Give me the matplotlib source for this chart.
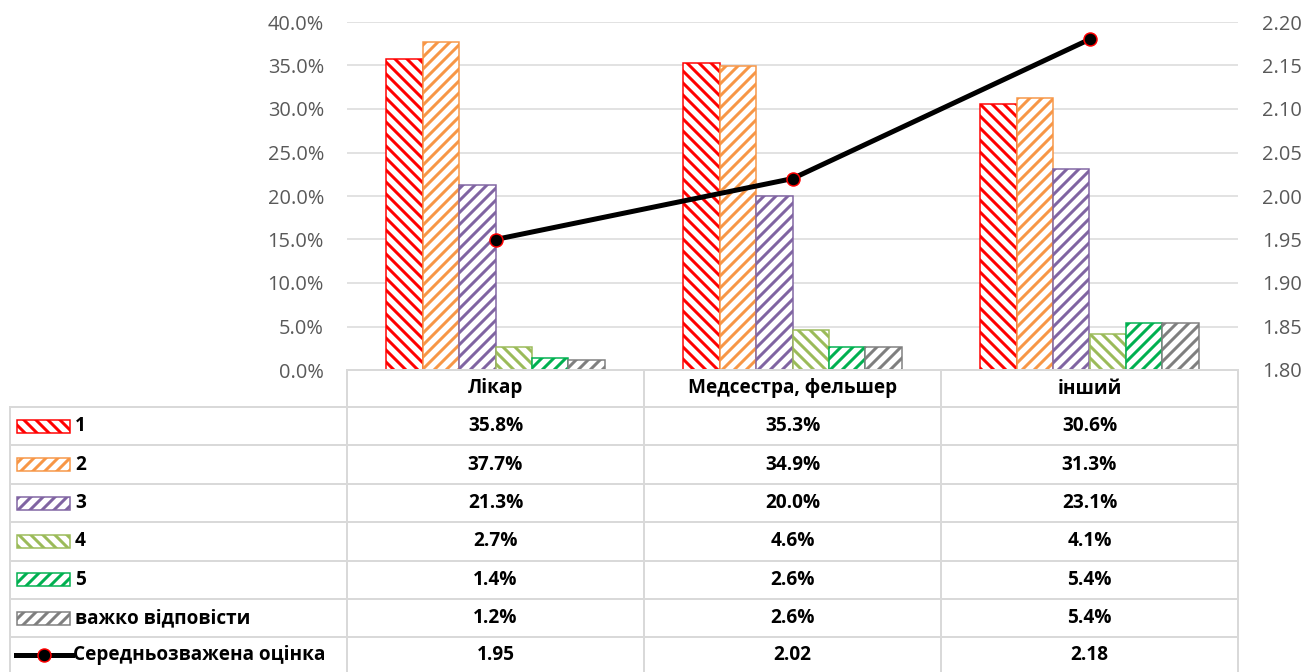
import matplotlib
matplotlib.use('Agg')
import matplotlib.pyplot as plt
import numpy as np
from matplotlib.patches import Rectangle
from matplotlib.lines import Line2D
from matplotlib.transforms import blended_transform_factory
from matplotlib.ticker import PercentFormatter, FormatStrFormatter

plt.rcParams['font.family'] = ['Open Sans', 'DejaVu Sans']
plt.rcParams['hatch.linewidth'] = 3.0

# data
categories = ['Лікар', 'Медсестра, фельшер', 'інший']
series_names = ['1', '2', '3', '4', '5', 'важко відповісти']
s1 = [35.8, 35.3, 30.6]
s2 = [37.7, 34.9, 31.3]
s3 = [21.3, 20.0, 23.1]
s4 = [2.7, 4.6, 4.1]
s5 = [1.4, 2.6, 5.4]
s_hard = [1.2, 2.6, 5.4]
avg_score = [1.95, 2.02, 2.18]
avg_name = 'Середньозважена оцінка'

series = [s1, s2, s3, s4, s5, s_hard]
colors = ['#FF0000', '#F79646', '#8064A2', '#9BBB59', '#00B050', '#7F7F7F']
hatches = ['\\\\', '//', '//', '\\\\', '//', '//']

W, H, DPI = 1309, 672, 72
fig = plt.figure(figsize=(W / DPI, H / DPI), dpi=DPI)

# main chart area
ax = fig.add_axes([347 / W, 1 - 370 / H, 891 / W, 348 / H])
x = np.arange(len(categories))
bw = 0.1225
for k, vals in enumerate(series):
    ax.bar(x + (k - 2.5) * bw, np.array(vals) / 100, bw, facecolor='white',
           edgecolor=colors[k], hatch=hatches[k], linewidth=1.5, zorder=2)
ax.set_xlim(-0.5, 2.5)
ax.set_ylim(0, 0.4)
ax.set_yticks(np.arange(0, 0.401, 0.05))
ax.yaxis.set_major_formatter(PercentFormatter(1, decimals=1))
ax.set_xticks([])
ax.yaxis.grid(True, color='#d9d9d9', linewidth=1.5)
ax.set_axisbelow(True)
for s in ax.spines.values():
    s.set_visible(False)
ax.tick_params(axis='y', length=0, pad=23, labelsize=20, labelcolor='#595959')

ax2 = ax.twinx()
ax2.plot(x, avg_score, color='black', linewidth=5, marker='o', markersize=13,
         markerfacecolor='black', markeredgecolor='red', markeredgewidth=1.5, zorder=5)
ax2.set_ylim(1.8, 2.2)
ax2.set_yticks(np.arange(1.8, 2.201, 0.05))
ax2.yaxis.set_major_formatter(FormatStrFormatter('%.2f'))
for s in ax2.spines.values():
    s.set_visible(False)
ax2.tick_params(axis='y', length=0, pad=24, labelsize=20, labelcolor='#595959')

# data table under the chart (pixel-like coords, y grows downward)
tax = fig.add_axes([10 / W, 0, 1228 / W, (H - 370) / H])
tax.set_xlim(10, 1238)
tax.set_ylim(H, 370)
tax.axis('off')
trans = blended_transform_factory(ax.transData, tax.transData)

grid_c = '#d9d9d9'
row_edges = [370, 407] + [407 + 38.4 * i for i in range(1, 8)]
bottom = row_edges[-1]

# horizontal lines
tax.add_line(Line2D([347, 1238], [370, 370], color=grid_c, lw=2, clip_on=False))
for yy in row_edges[1:-1]:
    tax.add_line(Line2D([10, 1238], [yy, yy], color=grid_c, lw=2, clip_on=False))
# vertical lines
tax.add_line(Line2D([10, 10], [407, bottom], color=grid_c, lw=2, clip_on=False))
for b in np.arange(len(categories) + 1) - 0.5:
    tax.add_line(Line2D([b, b], [370, bottom], color=grid_c, lw=2,
                        transform=trans, clip_on=False))

tfont = dict(fontsize=19, fontweight='bold', color='black', va='center')
yc = (row_edges[0] + row_edges[1]) / 2
for i, c in enumerate(categories):
    tax.text(i, yc, c, transform=trans, ha='center', **tfont)

for k, vals in enumerate(series):
    yc = (row_edges[k + 1] + row_edges[k + 2]) / 2
    tax.add_patch(Rectangle((17, yc - 6.5), 53, 13, facecolor='white',
                            edgecolor=colors[k], hatch=hatches[k], lw=1.5, clip_on=False))
    tax.text(75, yc, series_names[k], ha='left', **tfont)
    for i, v in enumerate(vals):
        tax.text(i, yc, f'{v:.1f}%', transform=trans, ha='center', **tfont)

yc = (row_edges[7] + row_edges[8]) / 2 - 2
tax.add_line(Line2D([16, 72], [yc, yc], color='black', lw=5, clip_on=False))
tax.add_line(Line2D([44], [yc], marker='o', markersize=13, markerfacecolor='black',
                    markeredgecolor='red', markeredgewidth=1.5, clip_on=False))
tax.text(73, yc, avg_name, ha='left', **tfont)
for i, v in enumerate(avg_score):
    tax.text(i, yc, f'{v:.2f}', transform=trans, ha='center', **tfont)

fig.savefig('out.png', dpi=DPI)
